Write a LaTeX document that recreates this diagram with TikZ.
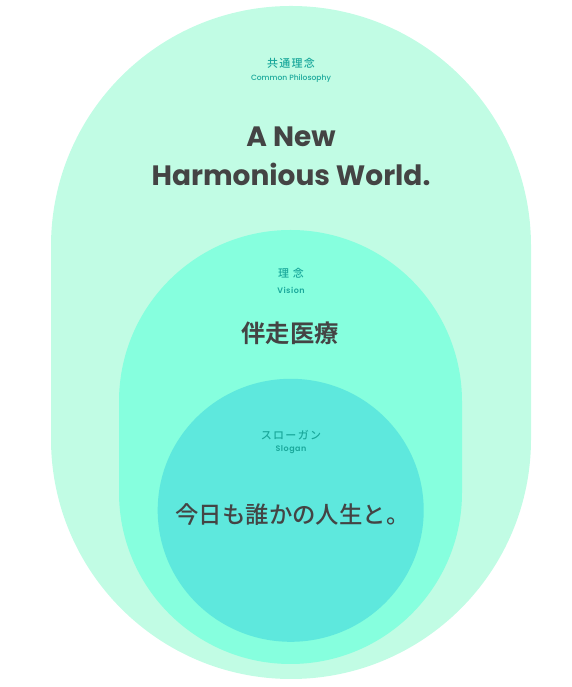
\documentclass[tikz,border=0pt]{standalone}
\usepackage{fontspec}
\setmainfont{Poppins}
\newfontfamily\popmed{Poppins Medium}
\newfontfamily\popsemi[LetterSpace=6]{Poppins SemiBold}
\newfontfamily\cjkm{Noto Sans CJK JP Medium}
\newfontfamily\cjkb{Noto Sans CJK JP Bold}
\newfontfamily\cjksp[LetterSpace=12]{Noto Sans CJK JP Medium}
\definecolor{outerc}{HTML}{C1FCE4}
\definecolor{midc}{HTML}{86FFDE}
\definecolor{innerc}{HTML}{5EE8DD}
\definecolor{labelc}{HTML}{1AA89B}
\definecolor{darkc}{HTML}{444444}
\tikzset{
  jlabel/.style={text=labelc, font=\cjksp\fontsize{11}{13}\selectfont, inner sep=0pt},
  elabel/.style={text=labelc, font=\popmed\fontsize{7.6}{9}\selectfont, inner sep=0pt},
  elabelb/.style={text=labelc, font=\popsemi\fontsize{8}{9}\selectfont, inner sep=0pt},
  headline/.style={text=darkc, font=\bfseries\fontsize{28}{36}\selectfont, inner sep=0pt},
  jhead/.style={text=darkc, font=\cjkb\fontsize{24.3}{28}\selectfont, inner sep=0pt},
  jslogan/.style={text=darkc, font=\cjkm\fontsize{23.4}{27}\selectfont, inner sep=0pt}
}
\begin{document}
\begin{tikzpicture}[x=1pt,y=1pt]
\useasboundingbox (0,0) rectangle (571,687);
% outer stadium
\fill[outerc] (51,248) -- (51,441) arc[start angle=180, end angle=0, radius=240]
  -- (531,248) arc[start angle=0, end angle=-180, radius=240] -- cycle;
% middle stadium
\fill[midc] (119,194.5) -- (119,285.5) arc[start angle=180, end angle=0, radius=171.5]
  -- (462,194.5) arc[start angle=0, end angle=-180, radius=171.5] -- cycle;
% inner circle
\fill[innerc] (290.7,176.7) ellipse[x radius=133, y radius=131.5];
% texts
\node[jlabel] (cpj) at (291,624) {共通理念};
\node[elabel] (cpe) at (291,608) {Common Philosophy};
\node[headline] (h1) at (291,550) {A New};
\node[headline] (h2) at (291,513) {Harmonious World.};
\node[jlabel] (vj) at (291,414) {理 念};
\node[elabelb] (ve) at (291,397) {Vision};
\node[jhead] (vt) at (290,354) {伴走医療};
\node[jlabel] (sj) at (291,252) {スローガン};
\node[elabelb] (se) at (291,237) {Slogan};
\node[jslogan] (st) at (292.5,172) {今日も誰かの人生と。};
\end{tikzpicture}
\end{document}
